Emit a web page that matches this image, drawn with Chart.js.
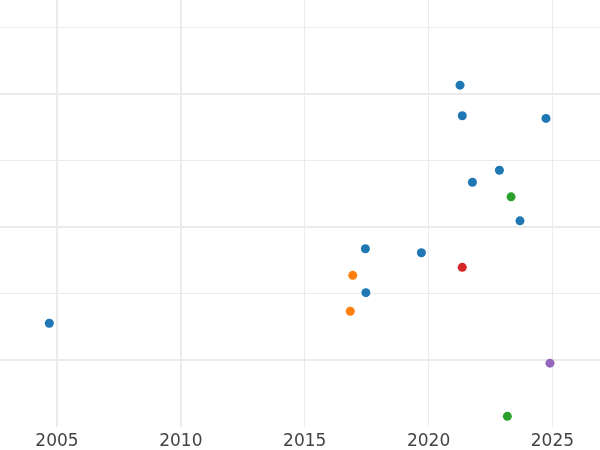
<!DOCTYPE html>
<html>
<head>
<meta charset="utf-8">
<script src="https://cdn.jsdelivr.net/npm/chart.js@4"></script>
<style>
  html, body { margin: 0; padding: 0; background: #fff; }
  #wrap { width: 600px; height: 450px; }
</style>
</head>
<body>
<div id="wrap"><canvas id="myChart"></canvas></div>
<script>
// values (x = year, y = unlabeled axis)
const blueX = [2021.27, 2021.36, 2024.74, 2022.86, 2021.77, 2023.69, 2017.45, 2019.71, 2017.47, 2004.69]
const blueY = [20.7, 18.4, 18.2, 14.3, 13.4, 10.5, 8.4, 8.1, 5.1, 2.8]
const orangeX = [2016.94, 2016.84]
const orangeY = [6.4, 3.7]
const greenX = [2023.33, 2023.18]
const greenY = [12.3, -4.2]
const redX = [2021.36]
const redY = [7.0]
const purpleX = [2024.90]
const purpleY = [-0.2]
const xTicks = [2005, 2010, 2015, 2020, 2025]
const yLines = [0, 5, 10, 15, 20, 25]

const pts = (xs, ys) => xs.map((x, i) => ({x: x, y: ys[i]}))

const mk = (xs, ys, color) => ({
    data: pts(xs, ys),
    backgroundColor: color,
    borderColor: color,
    pointRadius: 4.5,
    pointBorderWidth: 0
})

const ctx = document.getElementById('myChart')
const chart = new Chart(ctx, {
    type: 'scatter',
    data: {
        datasets: [
            mk(blueX, blueY, '#1f77b4'),
            mk(orangeX, orangeY, '#ff7f0e'),
            mk(greenX, greenY, '#2ca02c'),
            mk(redX, redY, '#d62728'),
            mk(purpleX, purpleY, '#9467bd')
        ]
    },
    options: {
        animation: false,
        responsive: true,
        maintainAspectRatio: false,
        layout: { padding: 0, autoPadding: false },
        plugins: { legend: { display: false }, tooltip: { enabled: false } },
        scales: {
            x: {
                type: 'linear',
                min: 2002.7,
                max: 2026.92,
                border: { display: false },
                grid: {
                    color: (c) => (c.tick && xTicks.includes(c.tick.value)) ? '#ebebeb' : 'rgba(0,0,0,0)',
                    lineWidth: (c) => (c.tick && c.tick.value <= 2010) ? 2 : 1,
                    drawTicks: false
                },
                afterBuildTicks: (s) => { s.ticks = xTicks.map(v => ({value: v})) },
                afterFit: (s) => { s.height = 23 },
                ticks: {
                    padding: 4,
                    color: '#444',
                    font: { family: 'DejaVu Sans', size: 17 },
                    callback: (v) => String(v)
                }
            },
            y: {
                min: -5,
                max: 27.1,
                border: { display: false },
                grid: {
                    color: (c) => (c.tick && yLines.includes(c.tick.value)) ? '#ebebeb' : 'rgba(0,0,0,0)',
                    lineWidth: (c) => (c.tick && c.tick.value % 10 === 0) ? 2 : 1,
                    drawTicks: false
                },
                ticks: { display: false, stepSize: 5, includeBounds: false },
                afterFit: (s) => { s.width = 0 }
            }
        }
    }
})
</script>
</body>
</html>
